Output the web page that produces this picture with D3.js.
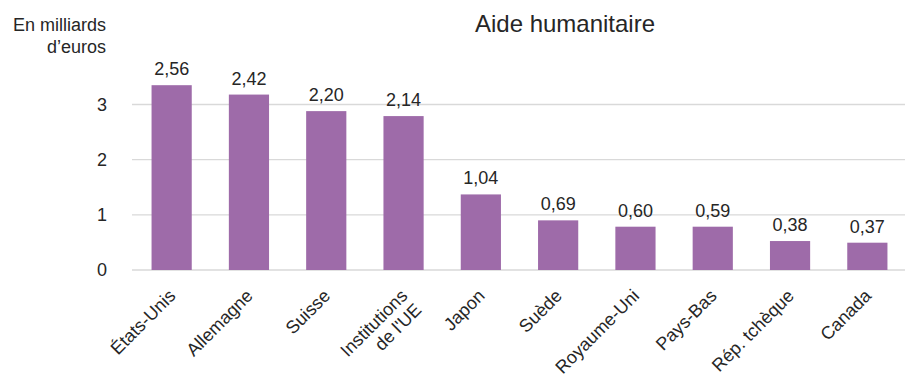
<!DOCTYPE html>
<html>
<head>
<meta charset="utf-8">
<script src="https://cdn.jsdelivr.net/npm/d3@7"></script>
<style>
  body { margin: 0; background: #fff; }
  text { font-family: "Liberation Sans", Arial, sans-serif; fill: #262626; }
  .grid line { stroke: #d9d9d9; stroke-width: 1.3; }
  .bar { fill: #9e6ba9; }
</style>
</head>
<body>
<div id="main"></div>
<script>
const ctx = {
    SVG_W: 905,
    SVG_H: 379,
};

// categories (two-line labels split on "\n")
const countries = ["États-Unis", "Allemagne", "Suisse", "Institutions\nde l'UE", "Japon",
    "Suède", "Royaume-Uni", "Pays-Bas", "Rép. tchèque", "Canada"];
// bar heights as drawn on the value axis
const values = [3.35, 3.18, 2.88, 2.79, 1.37, 0.90, 0.785, 0.785, 0.525, 0.495];
// labels printed above the bars
const valueLabels = ["2,56", "2,42", "2,20", "2,14", "1,04", "0,69", "0,60", "0,59", "0,38", "0,37"];
const yTicks = [0, 1, 2, 3];

function createViz() {
    let svgEl = d3.select("#main").append("svg")
        .attr("width", ctx.SVG_W)
        .attr("height", ctx.SVG_H);

    let x = d3.scaleBand()
        .domain(countries)
        .range([133, 906])
        .paddingInner(0.48)
        .paddingOuter(0.24);

    let y = d3.scaleLinear()
        .domain([0, 3])
        .range([270, 104.5]);

    // gridlines
    let grid = svgEl.append("g").attr("class", "grid");
    grid.selectAll("line")
        .data(yTicks)
        .enter()
        .append("line")
        .attr("x1", 132)
        .attr("x2", 905)
        .attr("y1", d => y(d))
        .attr("y2", d => y(d));

    // y tick labels
    svgEl.append("g").selectAll("text")
        .data(yTicks)
        .enter()
        .append("text")
        .attr("x", 107)
        .attr("y", d => y(d))
        .attr("dy", "0.35em")
        .attr("text-anchor", "end")
        .style("font-size", "18px")
        .text(d => d);

    // bars
    svgEl.append("g").selectAll("rect")
        .data(countries)
        .enter()
        .append("rect")
        .attr("class", "bar")
        .attr("x", d => x(d))
        .attr("width", x.bandwidth())
        .attr("y", (d, i) => y(values[i]))
        .attr("height", (d, i) => y(0) - y(values[i]));

    // value labels
    svgEl.append("g").selectAll("text")
        .data(countries)
        .enter()
        .append("text")
        .attr("x", d => x(d) + x.bandwidth() / 2)
        .attr("y", (d, i) => y(values[i]) - 10)
        .attr("text-anchor", "middle")
        .style("font-size", "18px")
        .text((d, i) => valueLabels[i]);

    // category labels, rotated
    let cats = svgEl.append("g").selectAll("text")
        .data(countries)
        .enter()
        .append("text")
        .attr("text-anchor", "end")
        .style("font-size", "18px")
        .attr("transform", d => "translate(" + (x(d) + x.bandwidth() / 2 + 5) + ",297) rotate(-45)");
    cats.each(function (d) {
        let lines = d.split("\n");
        lines.forEach((l, k) => {
            d3.select(this).append("tspan")
                .attr("x", 0)
                .attr("dy", (k === 0 ? 0 : 1.1) + "em")
                .text(l);
        });
    });

    // title and unit
    svgEl.append("text")
        .attr("x", 565)
        .attr("y", 32)
        .attr("text-anchor", "middle")
        .style("font-size", "24px")
        .text("Aide humanitaire");

    let unit = svgEl.append("text")
        .attr("text-anchor", "end")
        .style("font-size", "18px");
    unit.append("tspan").attr("x", 106).attr("y", 31).text("En milliards");
    unit.append("tspan").attr("x", 106).attr("y", 53).text("d’euros");
}

createViz();
</script>
</body>
</html>
